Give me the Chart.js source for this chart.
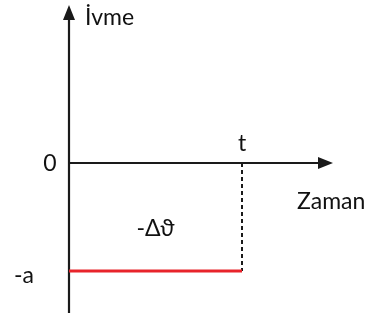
<!DOCTYPE html>
<html>
<head>
<meta charset="utf-8">
<script src="https://cdn.jsdelivr.net/npm/chart.js@4.4.1/dist/chart.umd.min.js"></script>
<style>
  html, body { margin: 0; padding: 0; background: #fff; }
  #wrap { width: 375px; height: 320px; }
</style>
</head>
<body>
<div id="wrap"><canvas id="accChart"></canvas></div>
<script>
// time runs from 0 to t, acceleration stays at -a
const timePoints = [0, 1];
const accelValues = [-1, -1];
const tTime = 1;
const aValue = -1;

const axisTitles = ["Zaman", "İvme"];
const tickLabels = ["0", "-a", "t"];
const areaLabel = "-Δϑ";

const FONT = "Lato";

function arrowHead(ctx, x, y, dir) {
  ctx.beginPath();
  if (dir === "up") {
    ctx.moveTo(x, y);
    ctx.lineTo(x - 6, y + 15);
    ctx.lineTo(x + 6, y + 15);
  } else {
    ctx.moveTo(x, y);
    ctx.lineTo(x - 15, y - 6);
    ctx.lineTo(x - 15, y + 6);
  }
  ctx.closePath();
  ctx.fill();
}

const axesPlugin = {
  id: "axesPlugin",
  beforeDatasetsDraw(chart) {
    const { ctx, chartArea, scales: { x, y } } = chart;
    const x0 = x.getPixelForValue(0);
    const y0 = y.getPixelForValue(0);
    ctx.save();
    ctx.strokeStyle = "#1a1a1a";
    ctx.fillStyle = "#1a1a1a";
    ctx.lineWidth = 2.2;
    // vertical axis
    ctx.beginPath();
    ctx.moveTo(x0, chartArea.bottom);
    ctx.lineTo(x0, chartArea.top + 10);
    ctx.stroke();
    arrowHead(ctx, x0, chartArea.top, "up");
    // horizontal axis
    ctx.beginPath();
    ctx.moveTo(x0, y0);
    ctx.lineTo(chartArea.right - 10, y0);
    ctx.stroke();
    arrowHead(ctx, chartArea.right, y0, "right");
    ctx.restore();
  },
  afterDraw(chart) {
    const { ctx, scales: { x, y } } = chart;
    const x0 = x.getPixelForValue(0);
    const y0 = y.getPixelForValue(0);
    const xt = x.getPixelForValue(tTime);
    const ya = y.getPixelForValue(aValue);
    ctx.save();
    ctx.fillStyle = "#111";
    ctx.font = "23px '" + FONT + "'";
    ctx.textBaseline = "middle";
    ctx.textAlign = "center";
    ctx.fillText(tickLabels[0], x0 - 19, y0 + 1);
    ctx.fillText(tickLabels[1], x0 - 45, ya + 5);
    ctx.fillText(tickLabels[2], xt, y0 - 19);
    ctx.fillText(areaLabel, x.getPixelForValue(0.5), y.getPixelForValue(-0.61));
    ctx.textAlign = "left";
    ctx.fillText(axisTitles[0], 297, y0 + 39);
    ctx.fillText(axisTitles[1], x0 + 16, 18);
    ctx.restore();
  }
};

new Chart(document.getElementById("accChart"), {
  type: "line",
  data: {
    datasets: [
      {
        data: timePoints.map((t, i) => ({ x: t, y: accelValues[i] })),
        borderColor: "#e8242b",
        borderWidth: 3,
        pointRadius: 0
      },
      {
        data: [{ x: tTime, y: 0 }, { x: tTime, y: aValue }],
        borderColor: "#1a1a1a",
        borderWidth: 2,
        borderDash: [4, 3],
        pointRadius: 0
      }
    ]
  },
  options: {
    responsive: true,
    maintainAspectRatio: false,
    animation: false,
    layout: { padding: { left: 69, right: 42, top: 5, bottom: 7 } },
    plugins: { legend: { display: false }, tooltip: { enabled: false } },
    scales: {
      x: { type: "linear", min: 0, max: 1.526, display: false },
      y: { type: "linear", min: -1.389, max: 1.463, display: false }
    }
  },
  plugins: [axesPlugin]
});
</script>
</body>
</html>
